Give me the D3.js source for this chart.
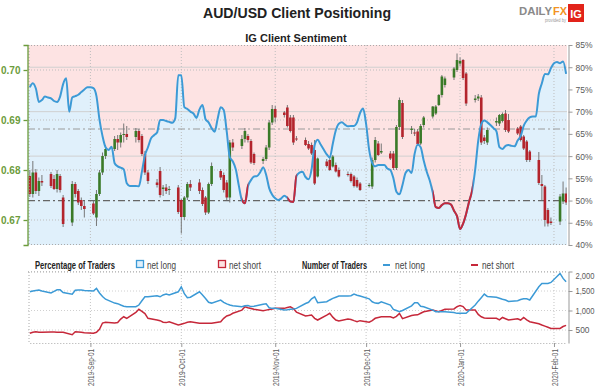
<!DOCTYPE html>
<html>
<head>
<meta charset="utf-8">
<script src="https://cdn.jsdelivr.net/npm/d3@7"></script>
<style>
  body { margin: 0; background: #fff; }
  svg { font-family: "Liberation Sans", Arial, sans-serif; display: block; }
</style>
</head>
<body>
<div id="chart"></div>
<script>
// ---- data ----
// trading days Aug 12 2019 .. Feb 5 2020 (weekdays)
const tradingDays = d3.timeDay.range(new Date(2019, 7, 12), new Date(2020, 1, 6))
  .filter(d => d.getDay() !== 0 && d.getDay() !== 6);
// sentiment is drawn per calendar day
const sentimentDays = d3.timeDay.range(new Date(2019, 7, 12), new Date(2020, 1, 6));

const candleOpen = [
  .6788,.6752,.6795,.6758,.6778, .6792,.6782,.6762,.6788,.6745,
  .6695,.6772,.6758,.6740,.6728, .6733,.6705,.6752,.6795,.6828,
  .6842,.6862,.6855,.6870,.6872, .6866,.6878,.6868,.6832,.6795,
  .6775,.6798,.6762,.6765,.6760, .6765,.6740,.6706,.6745,.6772,
  .6775,.6760,.6745,.6715,.6772, .6798,.6790,.6775,.6745,.6855,
  .6848,.6862,.6868,.6858,.6832, .6818,.6822,.6845,.6895,.6922,
  .6915,.6925,.6905,.6905,.6863, .6860,.6852,.6850,.6840,.6787,
  .6817,.6820,.6807,.6810,.6800, .6792,.6792,.6787,.6780,.6773,
  .6768,.6767,.6820,.6853,.6835, .6833,.6833,.6804,.6886,.6934,
  .6880,.6875,.6877,.6853,.6890, .6907,.6913,.6930,.6950,.6970,
  .6985,.7000,.7013,.7020,.6993, .6940,.6943,.6945,.6865,.6855,
  .6895,.6893,.6898,.6913,.6900, .6883,.6887,.6867,.6857,.6837,
  .6820,.6772,.6767,.6720,.6697, .6697,.6737,.6753
];
const candleHigh = [
  .6800,.6818,.6802,.6785,.6790, .6796,.6790,.6800,.6792,.6750,
  .6778,.6776,.6762,.6745,.6738, .6738,.6760,.6800,.6835,.6850,
  .6868,.6870,.6875,.6893,.6888, .6884,.6882,.6872,.6838,.6800,
  .6782,.6806,.6770,.6772,.6768, .6770,.6742,.6748,.6776,.6780,
  .6782,.6765,.6748,.6775,.6815, .6802,.6795,.6780,.6860,.6862,
  .6870,.6884,.6872,.6862,.6835, .6826,.6850,.6900,.6930,.6928,
  .6918,.6930,.6910,.6910,.6868, .6865,.6858,.6855,.6860,.6825,
  .6822,.6825,.6830,.6815,.6805, .6797,.6795,.6790,.6785,.6776,
  .6774,.6825,.6866,.6858,.6853, .6838,.6838,.6890,.6945,.6940,
  .6888,.6882,.6882,.6892,.6908, .6928,.6930,.6952,.6990,.6987,
  .7006,.7033,.7025,.7022,.6996, .6950,.6952,.6950,.6870,.6885,
  .6905,.6912,.6915,.6920,.6912, .6886,.6890,.6870,.6860,.6840,
  .6836,.6790,.6770,.6724,.6705, .6752,.6777,.6765
];
const candleLow = [
  .6746,.6745,.6752,.6748,.6768, .6764,.6760,.6755,.6755,.6686,
  .6688,.6745,.6730,.6720,.6705, .6710,.6688,.6748,.6790,.6822,
  .6838,.6840,.6845,.6855,.6860, .6855,.6855,.6828,.6790,.6772,
  .6765,.6745,.6748,.6752,.6750, .6712,.6673,.6700,.6740,.6758,
  .6752,.6728,.6710,.6712,.6768, .6780,.6755,.6740,.6735,.6838,
  .6842,.6855,.6855,.6812,.6810, .6812,.6818,.6840,.6890,.6895,
  .6905,.6885,.6875,.6850,.6858, .6848,.6840,.6830,.6770,.6785,
  .6805,.6798,.6805,.6795,.6785, .6787,.6775,.6765,.6764,.6758,
  .6765,.6762,.6815,.6828,.6832, .6820,.6800,.6800,.6880,.6862,
  .6872,.6868,.6848,.6850,.6885, .6903,.6910,.6928,.6945,.6965,
  .6980,.6996,.7008,.6980,.6928, .6935,.6938,.6850,.6852,.6850,
  .6888,.6888,.6895,.6876,.6874, .6870,.6857,.6840,.6816,.6816,
  .6770,.6740,.6687,.6687,.6690, .6690,.6732,.6730
];
const candleClose = [
  .6752,.6795,.6758,.6778,.6775, .6768,.6762,.6792,.6760,.6692,
  .6772,.6752,.6735,.6728,.6722, .6713,.6752,.6795,.6828,.6842,
  .6862,.6855,.6870,.6872,.6866, .6878,.6860,.6832,.6795,.6778,
  .6770,.6750,.6765,.6758,.6762, .6716,.6706,.6745,.6772,.6765,
  .6758,.6732,.6715,.6772,.6808, .6785,.6760,.6745,.6855,.6845,
  .6862,.6878,.6860,.6815,.6814, .6822,.6845,.6895,.6922,.6905,
  .6910,.6888,.6878,.6855,.6862, .6850,.6843,.6833,.6773,.6823,
  .6808,.6800,.6827,.6797,.6787, .6790,.6778,.6768,.6767,.6760,
  .6770,.6820,.6860,.6830,.6838, .6823,.6804,.6886,.6940,.6866,
  .6883,.6873,.6852,.6888,.6905, .6927,.6927,.6950,.6987,.6983,
  .7003,.7020,.7018,.6984,.6933, .6943,.6947,.6855,.6858,.6880,
  .6898,.6910,.6912,.6880,.6877, .6873,.6860,.6843,.6820,.6820,
  .6774,.6768,.6700,.6693,.6694, .6747,.6753,.6735
];

// % of traders net long, one value per calendar day
const netLongPct = [
  75.5,76.4,75.2,72.2,72.6,73.4,73.2,73.0,72.4,72.2,
  73.4,76.2,77.5,70.0,73.2,73.5,73.8,74.4,75.0,75.5,
  75.5,75.3,73.5,68.2,64.5,62.0,61.4,62.1,58.4,57.7,
  57.4,57.0,53.9,53.3,53.3,53.3,53.2,56.5,60.2,62.0,
  64.0,64.7,65.3,68.1,68.1,67.9,67.7,67.5,68.5,78.2,
  78.2,71.0,70.6,70.0,69.6,68.6,70.5,71.5,68.3,67.6,
  66.3,65.5,68.4,71.0,70.4,65.5,59.8,58.8,57.0,53.3,
  50.1,49.4,53.2,54.6,55.4,55.5,56.3,57.5,55.8,52.8,
  51.3,50.5,50.1,50.5,51.1,50.6,49.8,49.7,55.5,56.3,
  56.5,55.3,54.8,57.0,62.5,63.7,62.6,61.5,60.4,59.7,
  62.8,65.8,67.3,67.6,67.1,66.7,66.8,66.8,67.6,69.7,
  70.7,67.2,61.4,58.5,57.7,58.0,58.0,58.0,57.2,56.9,
  55.0,52.0,51.4,53.5,56.2,56.9,56.2,60.5,62.6,62.0,
  59.0,56.5,54.5,51.8,48.5,48.3,49.0,49.4,49.4,49.1,
  47.7,46.5,43.6,44.8,47.0,49.8,52.3,57.0,63.5,67.2,
  68.0,67.6,67.0,66.3,65.6,62.0,61.6,62.3,62.5,62.3,
  62.2,63.5,64.5,66.8,68.0,68.7,68.9,68.9,74.0,76.4,
  78.5,78.4,79.8,80.9,81.2,80.9,81.3,78.5
];

// number of traders, one value per trading day
const longCount = [
  1480,1500,1515,1524,1500, 1450,1490,1530,1530,1460,
  1420,1520,1524,1524,1510, 1500,1568,1450,1360,1290,
  1190,1175,1140,1110,1096, 1096,1140,1250,1352,1352,
  1380,1352,1400,1420,1396, 1480,1608,1430,1330,1340,
  1480,1400,1310,1210,1190, 1268,1210,1170,1140,1120,
  1096,1120,1130,1100,1110, 1160,1170,1070,1055,1055,
  1012,1020,1030,1040,1055, 1180,1210,1300,1352,1200,
  1224,1270,1310,1340,1370, 1370,1380,1420,1390,1370,
  1300,1224,1190,1183,1224, 1140,1030,1000,968,1000,
  1120,1200,1200,1110,1096, 1010,968,968,968,968,
  950,927,927,927,927, 1140,1240,1330,1420,1360,
  1340,1315,1290,1268,1230, 1250,1280,1300,1300,1270,
  1608,1690,1695,1695,1720, 1950,1823,1736
];
const shortCount = [
  415,440,456,445,440, 450,448,445,440,440,
  380,456,450,440,430, 420,440,520,679,700,
  680,690,780,840,800, 950,1030,980,920,800,
  756,740,700,690,712, 628,650,671,700,712,
  671,671,671,671,671, 712,800,860,884,930,
  1010,1096,1070,1050,1030, 994,1010,1025,1040,1055,
  1055,1075,1096,1050,960, 860,870,884,800,756,
  880,927,830,756,730, 780,770,740,712,740,
  700,740,800,820,840, 840,810,850,927,790,
  870,884,890,930,968, 1012,990,968,1000,1030,
  1040,1096,1130,1100,1012, 1012,900,840,810,800,
  800,760,822,790,756, 790,756,820,760,712,
  660,628,600,570,540, 540,590,620
];

const priceTicks = [0.67, 0.68, 0.69, 0.70];
const pctTicks = [40, 45, 50, 55, 60, 65, 70, 75, 80, 85];
const countTicks = [500, 1000, 1500, 2000];
const monthTicks = [new Date(2019, 8, 1), new Date(2019, 9, 1), new Date(2019, 10, 1),
  new Date(2019, 11, 1), new Date(2020, 0, 1), new Date(2020, 1, 1)];
const refPct = [66.1, 50];

// ---- setup ----
const W = 600, H = 388;
const plot = { left: 28, right: 567, top: 45, bottom: 245 };
const sub = { top: 272, bottom: 343 };
const colors = {
  pink: '#fde3e3', blue: '#e0f0fb', longLine: '#3c9ad6', shortLine: '#c6283a',
  up: '#3a7a28', down: '#b3242c', wick: '#777', green: '#6c9c3c', text: '#5a5a5a'
};

const svg = d3.select('#chart').append('svg').attr('width', W).attr('height', H);
const defs = svg.append('defs');

const x = d3.scaleTime()
  .domain([new Date(2019, 7, 12), new Date(2020, 1, 5)])
  .range([29.8, 566.1]);
const yPrice = d3.scaleLinear().domain([0.665, 0.705]).range([plot.bottom, plot.top]);
const yPct = d3.scaleLinear().domain([40, 85]).range([plot.bottom, plot.top]);
const yCount = d3.scaleLinear().domain([167, 2000]).range([sub.bottom, 271.5]);

defs.append('clipPath').attr('id', 'plotClip')
  .append('rect').attr('x', plot.left).attr('y', plot.top)
  .attr('width', plot.right - plot.left).attr('height', plot.bottom - plot.top);

// squeeze a text into the width it has in the picture
const fit = (sel, w) => sel.attr('textLength', w).attr('lengthAdjust', 'spacingAndGlyphs');

// ---- titles ----
fit(svg.append('text').attr('x', 203).attr('y', 18)
  .attr('font-size', 15.5).attr('font-weight', 'bold').attr('fill', '#222')
  .text('AUD/USD Client Positioning'), 188);
svg.append('text').attr('x', 296).attr('y', 42).attr('text-anchor', 'middle')
  .attr('font-size', 11).attr('font-weight', 'bold').attr('fill', '#222')
  .text('IG Client Sentiment');

// logo
const logo = svg.append('g').attr('transform', 'translate(519,4)');
fit(logo.append('text').attr('x', 0).attr('y', 11).attr('font-size', 10.5).attr('font-weight', 'bold')
  .attr('fill', '#8a8a8a').text('DAILY'), 33);
fit(logo.append('text').attr('x', 34).attr('y', 11).attr('font-size', 11.5).attr('font-weight', 'bold')
  .attr('fill', '#f39323').text('FX'), 14);
fit(logo.append('text').attr('x', 26).attr('y', 17.5).attr('font-size', 4.5).attr('fill', '#999')
  .text('provided by'), 21);
logo.append('rect').attr('x', 49).attr('y', 0).attr('width', 16).attr('height', 18).attr('fill', '#e2231a');
logo.append('text').attr('x', 57).attr('y', 13.5).attr('text-anchor', 'middle').attr('font-size', 11)
  .attr('font-weight', 'bold').attr('fill', '#fff').text('IG');

// ---- main panel ----
const viz = svg.append('g').attr('clip-path', 'url(#plotClip)');

viz.append('rect').attr('x', plot.left).attr('y', plot.top)
  .attr('width', plot.right - plot.left).attr('height', plot.bottom - plot.top)
  .attr('fill', colors.pink);

const sentiment = sentimentDays.map((d, i) => ({ date: d, v: netLongPct[i] }));
// pad the ends so the fill reaches the frame
const fillData = [{ date: x.invert(plot.left - 2), v: sentiment[0].v }, ...sentiment,
  { date: x.invert(plot.right + 2), v: sentiment[sentiment.length - 1].v }];

viz.append('path')
  .datum(fillData)
  .attr('fill', colors.blue)
  .attr('d', d3.area().x(d => x(d.date)).y0(plot.bottom).y1(d => yPct(d.v)).curve(d3.curveMonotoneX));

// grid lines
const grid = viz.append('g');
grid.selectAll('.pgrid').data(priceTicks).join('line')
  .attr('x1', plot.left).attr('x2', plot.right)
  .attr('y1', d => yPrice(d)).attr('y2', d => yPrice(d))
  .attr('stroke', '#bdbdbd').attr('stroke-dasharray', '1,2');
grid.selectAll('.rgrid').data([60, 70, 80]).join('line')
  .attr('x1', plot.left).attr('x2', plot.right)
  .attr('y1', d => yPct(d)).attr('y2', d => yPct(d))
  .attr('stroke', '#d0d0d0');
grid.selectAll('.vgrid').data(monthTicks).join('line')
  .attr('x1', d => x(d)).attr('x2', d => x(d))
  .attr('y1', plot.top).attr('y2', plot.bottom)
  .attr('stroke', '#bdbdbd').attr('stroke-dasharray', '1,2');
grid.selectAll('.ref').data(refPct).join('line')
  .attr('x1', plot.left).attr('x2', plot.right)
  .attr('y1', d => yPct(d)).attr('y2', d => yPct(d))
  .attr('stroke', (d, i) => i ? '#666' : '#999').attr('stroke-width', 1.2)
  .attr('stroke-dasharray', '7,3,2,3');

// candles
const candles = tradingDays.map((d, i) => ({
  date: d, o: candleOpen[i], h: candleHigh[i], l: candleLow[i], c: candleClose[i]
}));
const cg = viz.append('g');
cg.selectAll('.wick').data(candles).join('line')
  .attr('x1', d => x(d.date)).attr('x2', d => x(d.date))
  .attr('y1', d => yPrice(d.h)).attr('y2', d => yPrice(d.l))
  .attr('stroke', colors.wick).attr('stroke-width', 1);
cg.selectAll('.body').data(candles).join('rect')
  .attr('x', d => x(d.date) - 1.3).attr('width', 2.6)
  .attr('y', d => yPrice(Math.max(d.o, d.c)))
  .attr('height', d => Math.max(1, Math.abs(yPrice(d.o) - yPrice(d.c))))
  .attr('fill', d => d.c >= d.o ? colors.up : colors.down);

// sentiment line, red where the crowd is net short
const line = d3.line().x(d => x(d.date)).y(d => yPct(d.v)).curve(d3.curveMonotoneX);
viz.append('path').datum(sentiment).attr('d', line)
  .attr('fill', 'none').attr('stroke', colors.longLine).attr('stroke-width', 2);

const redSpans = [];
for (let i = 0; i < sentiment.length - 1; i++) {
  if (sentiment[i].v < 50 || sentiment[i + 1].v < 50) {
    redSpans.push([sentiment[i].date, sentiment[i + 1].date]);
  }
}
defs.append('clipPath').attr('id', 'redClip')
  .selectAll('rect').data(redSpans).join('rect')
  .attr('x', d => x(d[0])).attr('width', d => x(d[1]) - x(d[0]) + 0.3)
  .attr('y', plot.top).attr('height', plot.bottom - plot.top);
viz.append('g').attr('clip-path', 'url(#redClip)')
  .append('path').datum(sentiment).attr('d', line)
  .attr('fill', 'none').attr('stroke', colors.shortLine).attr('stroke-width', 2);

// frame
const frame = svg.append('g').attr('stroke', '#aaa').attr('stroke-dasharray', '1,2');
frame.append('line').attr('x1', plot.left).attr('x2', plot.right).attr('y1', plot.top + 0.5).attr('y2', plot.top + 0.5);
frame.append('line').attr('x1', plot.left).attr('x2', plot.right).attr('y1', plot.bottom - 0.5).attr('y2', plot.bottom - 0.5);
frame.append('line').attr('x1', plot.left + 1).attr('x2', plot.left + 1).attr('y1', plot.top).attr('y2', plot.bottom);

// left (price) axis
const leftAxis = svg.append('g').attr('transform', `translate(${plot.left - 0.5},0)`)
  .call(d3.axisLeft(yPrice).tickValues(priceTicks).tickFormat(d3.format('.2f')).tickSize(4).tickSizeOuter(4));
leftAxis.selectAll('path,line').attr('stroke', colors.green).attr('stroke-width', 1.3);
leftAxis.selectAll('text').attr('fill', colors.green).attr('font-size', 10).attr('font-weight', 'bold')
  .attr('font-family', '"Liberation Sans", Arial, sans-serif');

// right (percent) axis
const rightAxis = svg.append('g').attr('transform', 'translate(568.5,0)')
  .call(d3.axisRight(yPct).tickValues(pctTicks).tickFormat(d => d + '%').tickSize(4).tickSizeOuter(0));
rightAxis.selectAll('path,line').attr('stroke', '#999');
rightAxis.selectAll('text').attr('fill', colors.text).attr('font-size', 9)
  .attr('font-family', '"Liberation Sans", Arial, sans-serif')
  .attr('textLength', 17).attr('lengthAdjust', 'spacingAndGlyphs');

// ---- legend ----
const legend = svg.append('g').attr('font-size', 10);
fit(legend.append('text').attr('x', 35).attr('y', 268.5).attr('font-weight', 'bold').attr('fill', '#222')
  .text('Percentage of Traders'), 80);
legend.append('rect').attr('x', 136.5).attr('y', 260.5).attr('width', 7).attr('height', 7)
  .attr('fill', colors.blue).attr('stroke', colors.longLine).attr('stroke-width', 1.3);
fit(legend.append('text').attr('x', 147).attr('y', 268.5).attr('fill', '#444').text('net long'), 29);
legend.append('rect').attr('x', 218.5).attr('y', 260.5).attr('width', 7).attr('height', 7)
  .attr('fill', colors.pink).attr('stroke', colors.shortLine).attr('stroke-width', 1.3);
fit(legend.append('text').attr('x', 229).attr('y', 268.5).attr('fill', '#444').text('net short'), 32);
fit(legend.append('text').attr('x', 302).attr('y', 268.5).attr('font-weight', 'bold').attr('fill', '#222')
  .text('Number of Traders'), 65);
legend.append('line').attr('x1', 383).attr('x2', 390).attr('y1', 265).attr('y2', 265)
  .attr('stroke', colors.longLine).attr('stroke-width', 2);
fit(legend.append('text').attr('x', 395).attr('y', 268.5).attr('fill', '#444').text('net long'), 30);
legend.append('line').attr('x1', 471).attr('x2', 478).attr('y1', 265).attr('y2', 265)
  .attr('stroke', colors.shortLine).attr('stroke-width', 2);
fit(legend.append('text').attr('x', 482).attr('y', 268.5).attr('fill', '#444').text('net short'), 32);

// ---- trader count panel ----
const cnt = svg.append('g');
cnt.selectAll('.cgrid').data(countTicks).join('line')
  .attr('x1', plot.left).attr('x2', plot.right)
  .attr('y1', d => yCount(d)).attr('y2', d => yCount(d))
  .attr('stroke', '#d0d0d0').attr('stroke-dasharray', '1,2');
cnt.selectAll('.cvgrid').data(monthTicks).join('line')
  .attr('x1', d => x(d)).attr('x2', d => x(d))
  .attr('y1', sub.top).attr('y2', sub.bottom)
  .attr('stroke', '#c4c4c4').attr('stroke-dasharray', '1,2');
cnt.append('line').attr('x1', plot.left).attr('x2', plot.right).attr('y1', sub.top).attr('y2', sub.top)
  .attr('stroke', '#aaa').attr('stroke-dasharray', '1,2');
cnt.append('line').attr('x1', plot.left + 1).attr('x2', plot.left + 1).attr('y1', sub.top).attr('y2', sub.bottom)
  .attr('stroke', '#aaa').attr('stroke-dasharray', '1,2');

const countLine = d3.line().x((d, i) => x(tradingDays[i])).y(d => yCount(d));
cnt.append('path').datum(shortCount).attr('d', countLine)
  .attr('fill', 'none').attr('stroke', colors.shortLine).attr('stroke-width', 1.5);
cnt.append('path').datum(longCount).attr('d', countLine)
  .attr('fill', 'none').attr('stroke', colors.longLine).attr('stroke-width', 1.5);

const countAxis = svg.append('g').attr('transform', 'translate(568.5,0)')
  .call(d3.axisRight(yCount).tickValues(countTicks).tickSize(4).tickSizeOuter(0));
countAxis.selectAll('path,line').attr('stroke', '#999');
countAxis.selectAll('text').attr('fill', colors.text).attr('font-size', 9)
  .attr('font-family', '"Liberation Sans", Arial, sans-serif')
  .attr('textLength', d => d >= 1000 ? 19 : 14).attr('lengthAdjust', 'spacingAndGlyphs');
// the top label sits a little inside the panel, as in the picture
countAxis.selectAll('.tick').filter(d => d === 2000).select('text').attr('dy', '0.75em');

// date axis
const dateAxis = svg.append('g').attr('transform', `translate(0,${sub.bottom})`)
  .call(d3.axisBottom(x).tickValues(monthTicks).tickFormat(d3.timeFormat('%Y-%b-%d')).tickSize(4).tickSizeOuter(0));
dateAxis.select('.domain').attr('stroke', '#aaa').attr('stroke-dasharray', '1,2');
dateAxis.selectAll('line').attr('stroke', '#999');
dateAxis.selectAll('text')
  .attr('transform', 'rotate(-90)')
  .attr('text-anchor', 'end')
  .attr('x', -6).attr('y', 0).attr('dy', '0.35em')
  .attr('fill', colors.text).attr('font-size', 9.5)
  .attr('font-family', '"Liberation Sans", Arial, sans-serif')
  .attr('textLength', 37).attr('lengthAdjust', 'spacingAndGlyphs');
</script>
</body>
</html>
